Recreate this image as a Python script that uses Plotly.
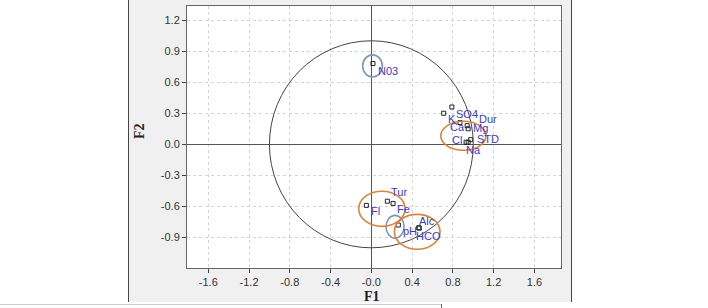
import plotly.graph_objects as go

# ---- data ----
labels = ["N03", "K", "SO4", "Ca", "Dur", "Mg", "STD", "Na", "Cl",
          "Fl", "Tur", "Fe", "pH", "Alc", "HCO"]
f1 = [0.016, 0.71, 0.79, 0.87, 0.94, 0.95, 0.975, 0.95, 0.93,
      -0.049, 0.157, 0.213, 0.265, 0.465, 0.47]
f2 = [0.78, 0.30, 0.36, 0.21, 0.18, 0.15, 0.045, 0.02, 0.02,
      -0.59, -0.55, -0.571, -0.78, -0.806, -0.81]

x_tickvals = [-1.6, -1.2, -0.8, -0.4, 0.0, 0.4, 0.8, 1.2, 1.6]
x_ticktext = ["-1.6", "-1.2", "-0.8", "-0.4", "-0.0", "0.4", "0.8", "1.2", "1.6"]
y_tickvals = [-1.2, -0.9, -0.6, -0.3, 0.0, 0.3, 0.6, 0.9, 1.2]
y_ticktext = ["-1.2", "-0.9", "-0.6", "-0.3", "0.0", "0.3", "0.6", "0.9", "1.2"]

# groups (ellipses): x0, x1, y0, y1, colour kind
groups_x0 = [-0.085, 0.144, -0.124, 0.226, 0.681]
groups_x1 = [0.108, 0.321, 0.331, 0.674, 1.125]
groups_y0 = [0.65, -0.906, -0.793, -1.014, -0.058]
groups_y1 = [0.864, -0.687, -0.453, -0.677, 0.222]
groups_kind = ["blue", "blue", "orange", "orange", "orange"]

# label offsets in pixels (style)
label_dx = [15, 8, 15, -3, 21, 12, 17, 5, -9, 9, 12, 10, 12, 8, 9]
label_dy = [7, 6, 7, 4, -7, -1, -1, 8, -2, 6, -9, 6, 6, -7, 8]

W, H = 708, 308
L, R, T, B = 187, 147, 6, 40
pw, ph = W - L - R, H - T - B

def px_to_paper_x(px):
    return (px - L) / pw

def px_to_paper_y(py):
    return (H - B - py) / ph

fig = go.Figure()
fig.add_trace(go.Scatter(
    x=f1, y=f2, mode="markers",
    marker=dict(symbol="square-open", size=4, color="#222222", line=dict(width=1)),
    hoverinfo="text", text=labels, showlegend=False))

shapes = []
# grey panel
shapes.append(dict(type="rect", xref="paper", yref="paper", layer="below",
                   x0=px_to_paper_x(128.5), x1=px_to_paper_x(571.5),
                   y0=px_to_paper_y(302), y1=px_to_paper_y(-2),
                   fillcolor="#f0f0f0", line=dict(width=0)))
# white plot area
shapes.append(dict(type="rect", xref="paper", yref="paper", layer="below",
                   x0=0, x1=1, y0=0, y1=1, fillcolor="white", line=dict(width=0)))
# panel frame lines
for xx in (128.5, 571.5):
    shapes.append(dict(type="line", xref="paper", yref="paper",
                       x0=px_to_paper_x(xx), x1=px_to_paper_x(xx),
                       y0=px_to_paper_y(302), y1=px_to_paper_y(-2),
                       line=dict(color="#444444", width=1)))
# bottom thin line
shapes.append(dict(type="line", xref="paper", yref="paper",
                   x0=px_to_paper_x(0), x1=px_to_paper_x(441),
                   y0=px_to_paper_y(304.5), y1=px_to_paper_y(304.5),
                   line=dict(color="#cccccc", width=1)))
shapes.append(dict(type="line", xref="paper", yref="paper",
                   x0=px_to_paper_x(441.5), x1=px_to_paper_x(441.5),
                   y0=px_to_paper_y(304), y1=px_to_paper_y(309),
                   line=dict(color="#666666", width=1)))
# correlation circle
shapes.append(dict(type="circle", xref="x", yref="y", x0=-1, x1=1, y0=-1, y1=1,
                   line=dict(color="#444444", width=1)))
colmap = {"blue": "#8097b0", "orange": "#d8843c"}
for x0, x1, y0, y1, k in zip(groups_x0, groups_x1, groups_y0, groups_y1, groups_kind):
    shapes.append(dict(type="circle", xref="x", yref="y", x0=x0, x1=x1, y0=y0, y1=y1,
                       line=dict(color=colmap[k], width=1.6)))

annotations = []
for lab, x, y, dx, dy in zip(labels, f1, f2, label_dx, label_dy):
    annotations.append(dict(x=x, y=y, xref="x", yref="y", text=lab, showarrow=False,
                            xshift=dx, yshift=-dy, xanchor="center", yanchor="middle",
                            font=dict(family="Liberation Sans, Arial", size=11, color="#3b3bc4")))
annotations.append(dict(x=px_to_paper_x(371.5), y=px_to_paper_y(296), xref="paper", yref="paper",
                        text="<b>F1</b>", showarrow=False, xanchor="center", yanchor="middle",
                        font=dict(family="Liberation Serif, Times New Roman", size=14, color="#222222")))
annotations.append(dict(x=px_to_paper_x(139.5), y=px_to_paper_y(131.5), xref="paper", yref="paper",
                        text="<b>F2</b>", showarrow=False, xanchor="center", yanchor="middle",
                        textangle=-90,
                        font=dict(family="Liberation Serif, Times New Roman", size=14, color="#222222")))

axis_common = dict(
    showgrid=True, gridcolor="#d4d4d4", griddash="dot", gridwidth=1,
    zeroline=True, zerolinecolor="#555555", zerolinewidth=1,
    showline=True, linecolor="#666666", linewidth=1, mirror=True,
    ticks="outside", ticklen=4, tickcolor="#444444",
    tickfont=dict(family="Liberation Sans, Arial", size=11, color="#333333"),
)

fig.update_layout(
    width=W, height=H,
    margin=dict(l=L, r=R, t=T, b=B),
    paper_bgcolor="white", plot_bgcolor="white",
    xaxis=dict(range=[-1.809, 1.861], tickvals=x_tickvals, ticktext=x_ticktext, **axis_common),
    yaxis=dict(range=[-1.195, 1.336], tickvals=y_tickvals, ticktext=y_ticktext, **axis_common),
    shapes=shapes, annotations=annotations,
)
fig.write_html("out.html", config={"displayModeBar": False},
               post_script="document.body.style.margin='0';document.body.style.overflow='hidden';")
